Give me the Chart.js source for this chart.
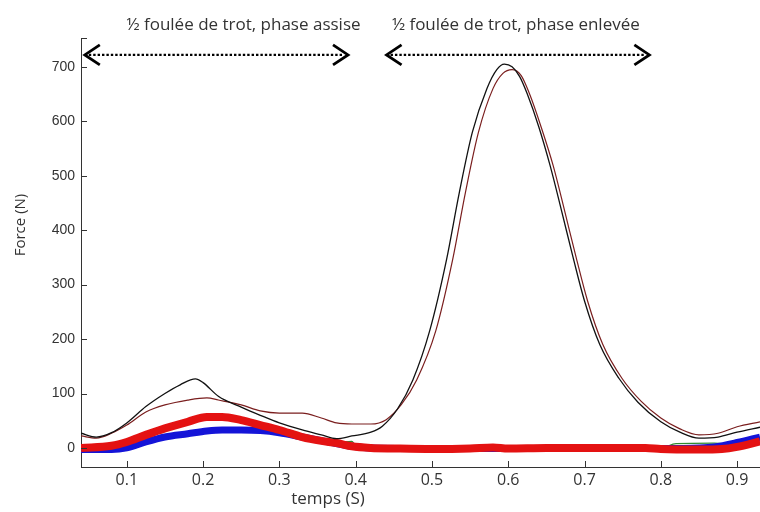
<!DOCTYPE html>
<html>
<head>
<meta charset="utf-8">
<script src="https://cdn.jsdelivr.net/npm/chart.js@4.4.0/dist/chart.umd.min.js"></script>
<style>
  html, body { margin: 0; padding: 0; background: #fff; }
  canvas { display: block; }
</style>
</head>
<body>
<canvas id="forceChart" width="760" height="512"></canvas>
<script>
// temps (s) / force (N)
const tBlack = [0.04, 0.06, 0.08, 0.10, 0.125, 0.15, 0.17, 0.19, 0.20, 0.22, 0.25, 0.275, 0.30, 0.33, 0.355, 0.375, 0.395, 0.42, 0.435, 0.455, 0.475, 0.497, 0.519, 0.536, 0.553, 0.572, 0.585, 0.595, 0.605, 0.615, 0.625, 0.64, 0.655, 0.67, 0.685, 0.70, 0.72, 0.745, 0.77, 0.80, 0.825, 0.85, 0.875, 0.90, 0.93];
const fBlack = [27, 20, 28, 46, 76, 100, 116, 127, 120, 95, 75, 60, 46, 33, 24, 17, 22, 29, 40, 72, 125, 215, 345, 470, 580, 660, 695, 705, 700, 682, 650, 590, 518, 435, 350, 270, 190, 128, 84, 48, 29, 18, 20, 29, 38];

const tMaroon = [0.04, 0.06, 0.08, 0.10, 0.125, 0.15, 0.18, 0.205, 0.22, 0.25, 0.275, 0.30, 0.33, 0.355, 0.375, 0.395, 0.42, 0.44, 0.46, 0.48, 0.505, 0.527, 0.544, 0.561, 0.58, 0.593, 0.605, 0.617, 0.628, 0.643, 0.659, 0.674, 0.689, 0.704, 0.724, 0.749, 0.774, 0.80, 0.825, 0.85, 0.875, 0.90, 0.93];
const fMaroon = [22, 18, 27, 42, 66, 79, 88, 92, 88, 79, 68, 64, 64, 55, 46, 44, 44, 52, 80, 125, 215, 345, 470, 580, 660, 688, 695, 684, 650, 590, 518, 435, 350, 270, 190, 128, 86, 55, 35, 24, 27, 39, 48];

const tRed = [0.04, 0.08, 0.10, 0.125, 0.15, 0.18, 0.205, 0.225, 0.25, 0.275, 0.30, 0.33, 0.355, 0.375, 0.395, 0.42, 0.45, 0.50, 0.55, 0.58, 0.60, 0.65, 0.70, 0.75, 0.78, 0.80, 0.85, 0.88, 0.90, 0.93];
const fRed = [0, 4, 11, 24, 36, 48, 57, 57, 51, 42, 33, 20, 13, 9, 3, 0, -1, -2, -1, 1, -1, 0, 0, 0, 0, -2, -3, -2, 2, 12];

const tBlue = [0.04, 0.08, 0.10, 0.125, 0.15, 0.18, 0.205, 0.225, 0.25, 0.275, 0.30, 0.33, 0.36, 0.39, 0.42, 0.50, 0.60, 0.70, 0.80, 0.85, 0.87, 0.90, 0.93];
const fBlue = [-3, -3, 0, 11, 20, 26, 31, 33, 33, 32, 28, 20, 12, 4, 0, -1, -1, -1, -1, 0, 2, 10, 20];

const tGreen = [0.375, 0.385, 0.395, 0.40, 0.45, 0.80, 0.82, 0.87, 0.90, 0.93];
const fGreen = [9, 11, 12, 4, 0, 0, 8, 9, 6, 8];

const xTicks = [0.1, 0.2, 0.3, 0.4, 0.5, 0.6, 0.7, 0.8, 0.9];
const yTicks = [0, 100, 200, 300, 400, 500, 600, 700];

const phaseLabels = ['\u00BD foulée de trot, phase assise', '\u00BD foulée de trot, phase enlevée'];
const phaseLabelAt = [0.253, 0.61];
const phaseStart = [0.045, 0.4405];
const phaseEnd = [0.39, 0.785];
const xTitle = 'temps (S)';
const yTitle = 'Force (N)';

function pts(t, f) {
    return t.map((v, i) => ({ x: v, y: f[i] }));
}

// ticks inside the box, phase arrows, axis titles
const extras = {
    id: 'extras',
    afterDraw(chart) {
        const c = chart.ctx;
        const xs = chart.scales.x, ys = chart.scales.y;
        const a = chart.chartArea;
        c.save();
        c.strokeStyle = '#333';
        c.lineWidth = 1;
        c.beginPath();
        yTicks.forEach(v => {
            const y = Math.round(ys.getPixelForValue(v)) + 0.5;
            c.moveTo(a.left, y); c.lineTo(a.left + 6, y);
        });
        xTicks.forEach(v => {
            const x = Math.round(xs.getPixelForValue(v)) + 0.5;
            c.moveTo(x, a.bottom); c.lineTo(x, a.bottom - 6);
        });
        c.moveTo(a.left, a.top + 0.5); c.lineTo(a.left + 6, a.top + 0.5);
        c.stroke();

        // phase arrows
        const yArrow = ys.getPixelForValue(722);
        phaseLabels.forEach((txt, i) => {
            const x0 = xs.getPixelForValue(phaseStart[i]);
            const x1 = xs.getPixelForValue(phaseEnd[i]);
            c.strokeStyle = '#000';
            c.lineWidth = 2.4;
            c.setLineDash([2.4, 2]);
            c.beginPath();
            c.moveTo(x0 + 4, yArrow); c.lineTo(x1 - 4, yArrow);
            c.stroke();
            c.setLineDash([]);
            c.lineWidth = 2.8;
            c.beginPath();
            c.moveTo(x0 + 15, yArrow - 10); c.lineTo(x0, yArrow); c.lineTo(x0 + 15, yArrow + 10);
            c.moveTo(x1 - 15, yArrow - 10); c.lineTo(x1, yArrow); c.lineTo(x1 - 15, yArrow + 10);
            c.stroke();

            c.fillStyle = '#333';
            c.font = '17px "Open Sans"';
            c.textAlign = 'center';
            c.textBaseline = 'alphabetic';
            c.fillText(txt, xs.getPixelForValue(phaseLabelAt[i]), 30);
        });

        // axis titles
        c.fillStyle = '#333';
        c.font = '17px "Open Sans"';
        c.textAlign = 'center';
        c.fillText(xTitle, 328, 504);
        c.font = '15px "Open Sans"';
        c.translate(25, 225);
        c.rotate(-Math.PI / 2);
        c.fillText(yTitle, 0, 0);
        c.restore();
    }
};

const ctx = document.getElementById('forceChart').getContext('2d');
const forceChart = new Chart(ctx, {
    type: 'line',
    data: {
        datasets: [{
            data: pts(tBlack, fBlack),
            borderColor: '#111111',
            borderWidth: 1.3
        },
        {
            data: pts(tMaroon, fMaroon),
            borderColor: '#7a1e1e',
            borderWidth: 1.2
        },
        {
            data: pts(tRed, fRed),
            borderColor: '#e41212',
            borderWidth: 8
        },
        {
            data: pts(tBlue, fBlue),
            borderColor: '#1414d8',
            borderWidth: 7
        },
        {
            data: pts(tGreen, fGreen),
            borderColor: '#2f8a2f',
            borderWidth: 1.2
        }]
    },
    options: {
        responsive: false,
        animation: false,
        layout: { padding: { top: 38, right: 0, left: 0, bottom: 0 } },
        elements: {
            point: { radius: 0 },
            line: { cubicInterpolationMode: 'monotone', fill: false }
        },
        plugins: {
            legend: { display: false },
            tooltip: { enabled: false }
        },
        scales: {
            x: {
                type: 'linear',
                min: 0.04,
                max: 0.93,
                afterBuildTicks: s => { s.ticks = xTicks.map(v => ({ value: v })); },
                afterFit: s => { s.height = 45; },
                grid: { drawOnChartArea: false, drawTicks: false },
                border: { color: '#333', width: 1 },
                ticks: {
                    padding: 4,
                    color: '#333',
                    font: { family: 'Open Sans', size: 16 },
                    maxRotation: 0,
                    callback: v => v.toFixed(1)
                }
            },
            y: {
                min: -35,
                max: 753,
                afterBuildTicks: s => { s.ticks = yTicks.map(v => ({ value: v })); },
                afterFit: s => { s.width = 81; },
                grid: { drawOnChartArea: false, drawTicks: false },
                border: { color: '#333', width: 1 },
                ticks: {
                    padding: 6,
                    color: '#333',
                    font: { family: 'Liberation Sans', size: 14 }
                }
            }
        }
    },
    plugins: [extras]
});
</script>
</body>
</html>
